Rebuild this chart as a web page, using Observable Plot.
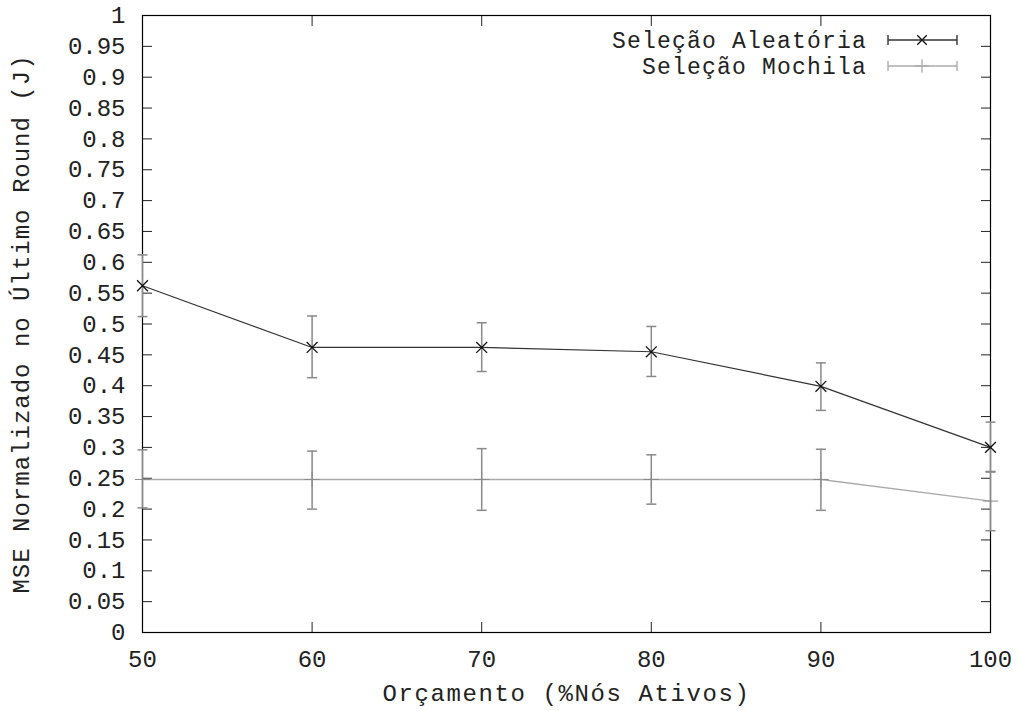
<!DOCTYPE html>
<html>
<head>
<meta charset="utf-8">
<script src="https://cdn.jsdelivr.net/npm/d3@7"></script>
<script src="https://cdn.jsdelivr.net/npm/@observablehq/plot@0.6"></script>
<style>
  html, body { margin: 0; padding: 0; background: #fff; }
  svg { display: block; }
</style>
</head>
<body>
<div id="chart"></div>
<script>
// ---- data ----
const budgets = [50, 60, 70, 80, 90, 100];
const aleatoria = [0.562, 0.462, 0.462, 0.455, 0.399, 0.300];
const aleatoriaLow = [0.512, 0.413, 0.423, 0.415, 0.360, 0.260];
const aleatoriaHigh = [0.612, 0.513, 0.502, 0.496, 0.437, 0.341];
const mochila = [0.248, 0.248, 0.248, 0.248, 0.248, 0.213];
const mochilaLow = [0.202, 0.200, 0.198, 0.208, 0.198, 0.165];
const mochilaHigh = [0.296, 0.294, 0.298, 0.288, 0.297, 0.261];
const seriesNames = ["Seleção Aleatória", "Seleção Mochila"];
const yTicks = d3.range(21).map(i => i / 20);
const xTicks = [50, 60, 70, 80, 90, 100];
const xLabel = "Orçamento (%Nós Ativos)";
const yLabel = "MSE Normalizado no Último Round (J)";

const rowsA = budgets.map((b, i) => ({x: b, y: aleatoria[i], lo: aleatoriaLow[i], hi: aleatoriaHigh[i]}));
const rowsM = budgets.map((b, i) => ({x: b, y: mochila[i], lo: mochilaLow[i], hi: mochilaHigh[i]}));

const FONT = "'Liberation Mono', 'DejaVu Sans Mono', monospace";
const lineA = "#333";
const lineM = "#ababab";
const errC = "#8a8a8a";

const cap = { draw(ctx) { ctx.moveTo(-5, 0); ctx.lineTo(5, 0); } };
const fmt = d => d3.format(".2~f")(d);

const plot = Plot.plot({
  width: 1021,
  height: 711,
  marginLeft: 142,
  marginRight: 31,
  marginTop: 15,
  marginBottom: 79,
  style: {fontFamily: FONT, fontSize: "24px", color: "#222", background: "#fff"},
  x: {domain: [50, 100]},
  y: {domain: [0, 1]},
  marks: [
    // inward ticks
    Plot.axisY(yTicks, {anchor: "left", tickSize: -10, tickFormat: () => "", label: null}),
    Plot.axisY(yTicks, {anchor: "right", tickSize: -10, tickFormat: () => "", label: null}),
    Plot.axisX(xTicks, {anchor: "bottom", tickSize: -10, tickFormat: () => "", label: null}),
    Plot.axisX(xTicks, {anchor: "top", tickSize: -10, tickFormat: () => "", label: null}),
    // labels
    Plot.axisY(yTicks, {anchor: "left", tickSize: 0, tickPadding: 17, tickFormat: fmt,
      label: yLabel, labelAnchor: "center", labelOffset: 131, labelArrow: "none"}),
    Plot.axisX(xTicks, {anchor: "bottom", tickSize: 0, tickPadding: 17, tickFormat: d => String(d),
      label: xLabel, labelAnchor: "center", labelOffset: 68, labelArrow: "none"}),
    Plot.frame({stroke: "#000", strokeWidth: 1.2}),
    // Mochila
    Plot.line(rowsM, {x: "x", y: "y", stroke: lineM, strokeWidth: 1.4}),
    Plot.ruleX(rowsM, {x: "x", y1: "lo", y2: "hi", stroke: errC, strokeWidth: 1.5}),
    Plot.dot(rowsM, {x: "x", y: "lo", symbol: cap, stroke: errC, fill: "none", strokeWidth: 1.5}),
    Plot.dot(rowsM, {x: "x", y: "hi", symbol: cap, stroke: errC, fill: "none", strokeWidth: 1.5}),
    Plot.dot(rowsM, {x: "x", y: "y", symbol: "plus", r: 5, stroke: errC, strokeWidth: 1}),
    // Aleatoria
    Plot.ruleX(rowsA, {x: "x", y1: "lo", y2: "hi", stroke: errC, strokeWidth: 1.5}),
    Plot.dot(rowsA, {x: "x", y: "lo", symbol: cap, stroke: errC, fill: "none", strokeWidth: 1.5}),
    Plot.dot(rowsA, {x: "x", y: "hi", symbol: cap, stroke: errC, fill: "none", strokeWidth: 1.5}),
    Plot.line(rowsA, {x: "x", y: "y", stroke: lineA, strokeWidth: 1.2}),
    Plot.dot(rowsA, {x: "x", y: "y", symbol: "times", r: 5, stroke: "#111", strokeWidth: 1.3})
  ]
});

const svg = d3.select(plot);
// widen axis titles to match the reference's wider typeface
svg.selectAll('g[aria-label="y-axis label"] text').style("letter-spacing", "1px");
svg.selectAll('g[aria-label="x-axis label"] text').style("letter-spacing", "1.6px");

// legend (top-right, inside frame)
const legendRows = [
  {name: seriesNames[0], line: lineA, marker: "times", cy: 40},
  {name: seriesNames[1], line: lineM, marker: "plus", cy: 66}
];
const lg = svg.append("g").attr("font-family", FONT).attr("font-size", 23).style("letter-spacing", "1.2px");
legendRows.forEach(r => {
  const g = lg.append("g").attr("transform", `translate(0,${r.cy})`);
  g.append("text").attr("x", 867).attr("y", 0).attr("dy", "0.35em")
    .attr("text-anchor", "end").attr("fill", "#222").text(r.name);
  g.append("line").attr("x1", 888).attr("x2", 957).attr("y1", 0).attr("y2", 0)
    .attr("stroke", r.line).attr("stroke-width", 1.4);
  [888, 957].forEach(x => g.append("line").attr("x1", x).attr("x2", x).attr("y1", -5).attr("y2", 5)
    .attr("stroke", r.line).attr("stroke-width", 1.4));
  g.append("path").attr("transform", "translate(922,0)")
    .attr("d", d3.symbol(r.marker === "times" ? d3.symbolTimes : d3.symbolPlus, 60)())
    .attr("fill", "none")
    .attr("stroke", r.marker === "times" ? "#111" : r.line).attr("stroke-width", 1.3);
});

document.getElementById("chart").appendChild(plot);
</script>
</body>
</html>
